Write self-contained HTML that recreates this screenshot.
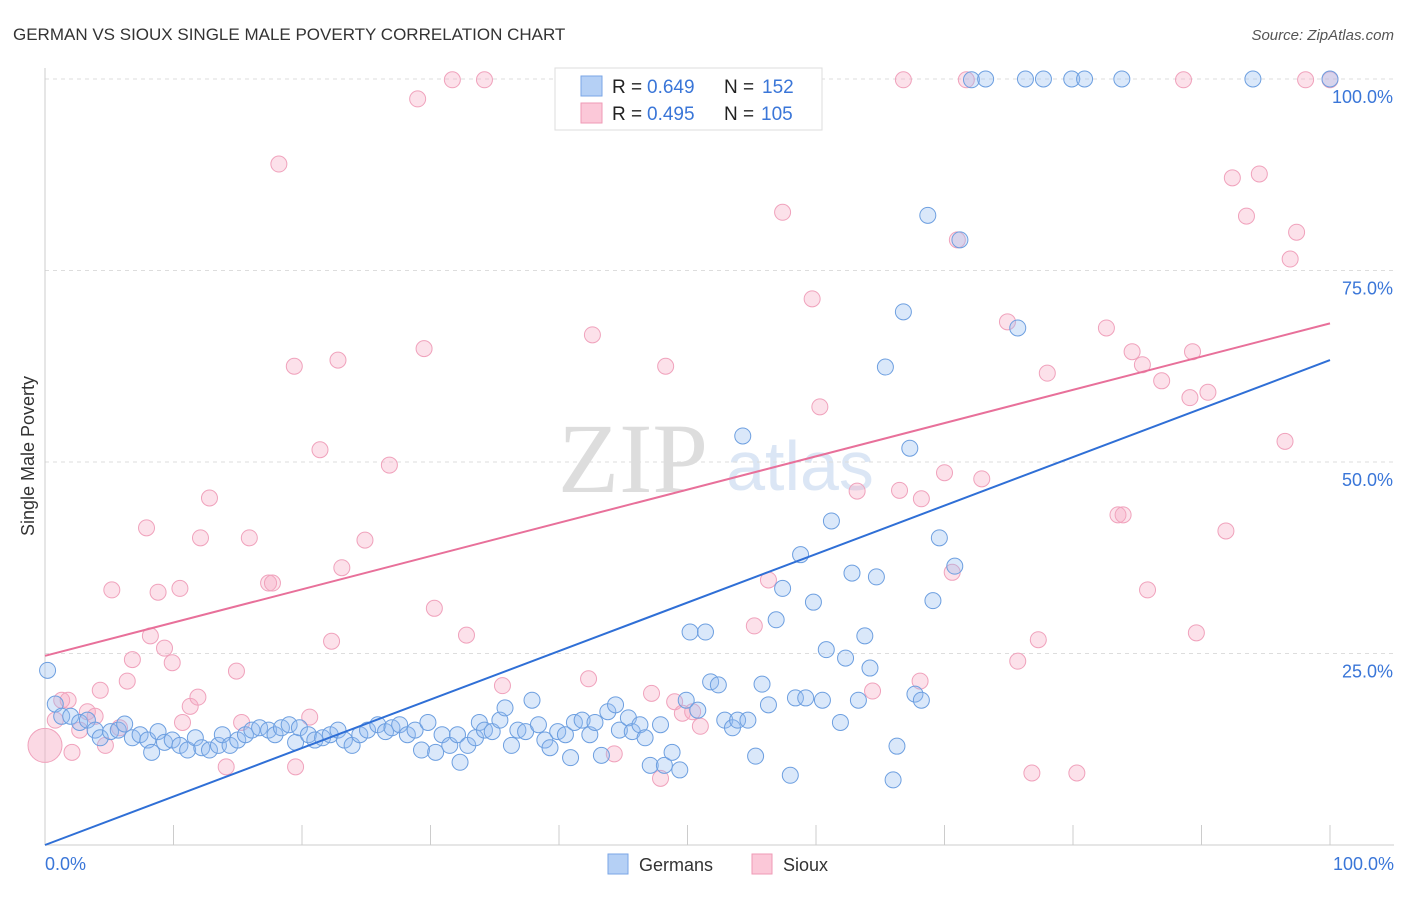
<!DOCTYPE html>
<html><head><meta charset="utf-8"><style>
body{margin:0;background:#fff;font-family:"Liberation Sans",sans-serif;}
</style></head><body>
<svg id="c" width="1406" height="892" xmlns="http://www.w3.org/2000/svg">
<text x="13" y="40" font-size="17" fill="#333">GERMAN VS SIOUX SINGLE MALE POVERTY CORRELATION CHART</text>
<text x="1394" y="40" font-size="15" fill="#555" font-style="italic" text-anchor="end">Source: ZipAtlas.com</text>
<text x="633" y="492" font-size="100" fill="#ddd" font-family="Liberation Serif" text-anchor="middle">ZIP</text>
<text x="800" y="490" font-size="70" fill="#dbe6f5" text-anchor="middle">atlas</text>
<g id="grid"></g><g id="pts"></g><g id="lines"></g>
<text transform="translate(34,456) rotate(-90)" font-size="18" fill="#333" text-anchor="middle">Single Male Poverty</text>
<text x="45" y="870" font-size="18" fill="#3a76d8">0.0%</text>
<text x="1394" y="870" font-size="18" fill="#3a76d8" text-anchor="end">100.0%</text>
<g>
<rect x="555" y="68" width="267" height="62" fill="#fff" stroke="#ddd"/>
<rect x="581" y="76" width="21" height="20" fill="#b5d0f5" stroke="#7aa6e6"/>
<rect x="581" y="103" width="21" height="20" fill="#fbc8d8" stroke="#ef9ab6"/>
<text x="612" y="93" font-size="19" fill="#222">R =</text>
<text x="647" y="93" font-size="19" fill="#3a76d8">0.649</text>
<text x="724" y="93" font-size="19" fill="#222">N =</text>
<text x="762" y="93" font-size="19" fill="#3a76d8">152</text>
<text x="612" y="120" font-size="19" fill="#222">R =</text>
<text x="647" y="120" font-size="19" fill="#3a76d8">0.495</text>
<text x="724" y="120" font-size="19" fill="#222">N =</text>
<text x="761" y="120" font-size="19" fill="#3a76d8">105</text>
</g>
<g>
<rect x="608" y="854" width="20" height="20" fill="#b5d0f5" stroke="#7aa6e6"/>
<text x="639" y="871" font-size="18" fill="#333">Germans</text>
<rect x="752" y="854" width="20" height="20" fill="#fbc8d8" stroke="#ef9ab6"/>
<text x="783" y="871" font-size="18" fill="#333">Sioux</text>
</g>
</svg>
<script>
const yTicks=[25,50,75,100];
const yTickLabels=["25.0%","50.0%","75.0%","100.0%"];
const xTicks=[0,10,20,30,40,50,60,70,80,90,100];
const blueX=[0.2,0.8,1.3,2,2.7,3.3,3.9,4.3,5.1,5.7,6.2,6.8,7.4,8,8.3,8.8,9.3,9.9,10.5,11.1,11.7,12.2,12.8,13.5,13.8,14.4,15,15.6,16.1,16.7,17.4,17.9,18.4,19,19.5,19.8,20.5,21,21.6,22.2,22.8,23.3,23.9,24.5,25.1,25.9,26.5,27,27.6,28.2,28.8,29.3,29.8,30.4,30.9,31.5,32.1,32.3,32.9,33.5,33.8,34.2,34.8,35.4,35.8,36.3,36.8,37.4,37.9,38.4,38.9,39.3,39.9,40.5,40.9,41.2,41.8,42.4,42.8,43.3,43.8,44.4,44.7,45.4,45.7,46.3,46.7,47.1,47.9,48.2,48.8,49.4,49.9,50.2,50.8,51.4,51.8,52.4,52.9,53.5,53.9,54.3,54.7,55.3,55.8,56.3,56.9,57.4,58,58.4,58.8,59.2,59.8,60.5,60.8,61.2,61.9,62.3,62.8,63.3,63.8,64.2,64.7,65.4,66,66.3,66.8,67.3,67.7,68.2,68.7,69.1,69.6,70.8,71.2,72.1,73.2,75.7,76.3,77.7,79.9,80.9,83.8,94,100];
const blueY=[22.8,18.4,16.8,16.8,16,16.3,15,14,14.8,15,15.8,14,14.4,13.7,12.1,14.8,13.4,13.7,13,12.4,14,12.7,12.4,13,14.4,13,13.7,14.4,15,15.3,15,14.4,15.3,15.7,13.4,15.3,14.4,13.7,14,14.4,15,13.7,13,14.4,15,15.7,14.8,15.3,15.7,14.4,15,12.4,16,12.1,14.4,13,14.4,10.8,13,14,16,15,14.8,16.3,17.9,13,15,14.8,18.9,15.7,13.7,12.7,14.8,14.4,11.4,16,16.3,14.4,16,11.7,17.4,18.3,15,16.6,14.8,15.7,14,10.4,15.7,10.4,12.1,9.8,18.9,27.8,17.6,27.8,21.3,20.9,16.3,15.3,16.3,53.4,16.3,11.6,21,18.3,29.4,33.5,9.1,19.2,37.9,19.2,31.7,18.9,25.5,42.3,16,24.4,35.5,18.9,27.3,23.1,35,62.4,8.5,12.9,69.6,51.8,19.7,18.9,82.2,31.9,40.1,36.4,79,99.9,100,67.5,100,100,100,100,100,100,100];
const pinkX=[0.8,1.3,1.8,2.1,2.7,3.3,3.9,4.3,4.7,5.2,5.8,6.4,6.8,7.9,8.2,8.8,9.3,9.9,10.5,10.7,11.3,11.9,12.1,12.8,14.1,14.9,15.3,15.9,17.4,17.7,18.2,19.4,19.5,20.6,21.4,22.3,22.8,23.1,24.9,26.8,29,29.5,30.3,31.7,32.8,34.2,35.6,42.3,42.6,44.3,47.2,47.9,48.3,49,49.6,50.4,51,52,55.2,56.3,57.4,59.7,60.3,63.2,64.4,66.5,66.8,68.2,68.1,70,70.6,71,71.7,72.9,74.9,75.7,76.8,77.3,78,80.3,82.6,83.5,83.9,84.6,85.4,85.8,86.9,88.6,89.1,89.3,89.6,90.5,91.9,92.4,93.5,94.5,96.5,96.9,97.4,98.1,100];
const pinkY=[16.3,18.9,18.9,12.1,15,17.4,16.8,20.2,13,33.3,15.3,21.4,24.2,41.4,27.3,33,25.7,23.8,33.5,16,18.1,19.3,40.1,45.3,10.2,22.7,16,40.1,34.2,34.2,88.9,62.5,10.2,16.7,51.6,26.6,63.3,36.2,39.8,49.6,97.4,64.8,30.9,99.9,27.4,99.9,20.8,21.7,66.6,11.9,19.8,8.7,62.5,18.7,17.2,17.4,15.5,99.9,28.6,34.6,82.6,71.3,57.2,46.2,20.1,46.3,99.9,45.2,21.4,48.6,35.6,79,99.9,47.8,68.3,24,9.4,26.8,61.6,9.4,67.5,43.1,43.1,64.4,62.7,33.3,60.6,99.9,58.4,64.4,27.7,59.1,41,87.1,82.1,87.6,52.7,76.5,80,99.9,99.9];
const blueLine=[0,63.3];
const pinkLine=[24.7,68.1];
const NS='http://www.w3.org/2000/svg';
const X0=45,X1=1330,Y0=845,Y100=79;
const sx=v=>X0+(X1-X0)*v/100;
const sy=v=>Y0-(Y0-Y100)*v/100;
function mk(tag,a,parent){const e=document.createElementNS(NS,tag);for(const k in a)e.setAttribute(k,a[k]);parent.appendChild(e);return e;}
const grid=document.getElementById('grid');
yTicks.forEach((t,i)=>{
 const l=mk('line',{x1:X0,x2:1394,y1:sy(t),y2:sy(t),stroke:'#ddd','stroke-dasharray':'4,4'},grid);
 
 
 const tx=mk('text',{x:1393,y:sy(t)+24,'font-size':18,fill:'#3a76d8','text-anchor':'end'},grid);
 tx.textContent=yTickLabels[i];
 
 
});
const ya=mk('line',{x1:X0,x2:X0,y1:68,y2:Y0,stroke:'#ccc'},grid);


const xa=mk('line',{x1:X0,x2:1394,y1:Y0,y2:Y0,stroke:'#ccc'},grid);


xTicks.forEach(t=>{
 const l=mk('line',{x1:sx(t),x2:sx(t),y1:825,y2:Y0,stroke:'#ccc'},grid);
 
 
});
const pts=document.getElementById('pts');
pinkX.forEach((v,i)=>{
 const c=mk('circle',{cx:sx(v),cy:sy(pinkY[i]),r:8,fill:'rgba(247,170,196,0.35)',stroke:'#f0a2bc','stroke-width':1},pts);
 
 
});
const big=mk('circle',{cx:sx(0),cy:sy(13),r:17,fill:'rgba(247,170,196,0.45)',stroke:'#f0a2bc'},pts);


blueX.forEach((v,i)=>{
 const c=mk('circle',{cx:sx(v),cy:sy(blueY[i]),r:8,fill:'rgba(150,190,240,0.35)',stroke:'#6d9fe0','stroke-width':1},pts);
 
 
});
const lines=document.getElementById('lines');
const bl=mk('line',{x1:sx(0),y1:sy(blueLine[0]),x2:sx(100),y2:sy(blueLine[1]),stroke:'#2f6fd6','stroke-width':2},lines);


const pl=mk('line',{x1:sx(0),y1:sy(pinkLine[0]),x2:sx(100),y2:sy(pinkLine[1]),stroke:'#e8709a','stroke-width':2},lines);


</script>
</body></html>
